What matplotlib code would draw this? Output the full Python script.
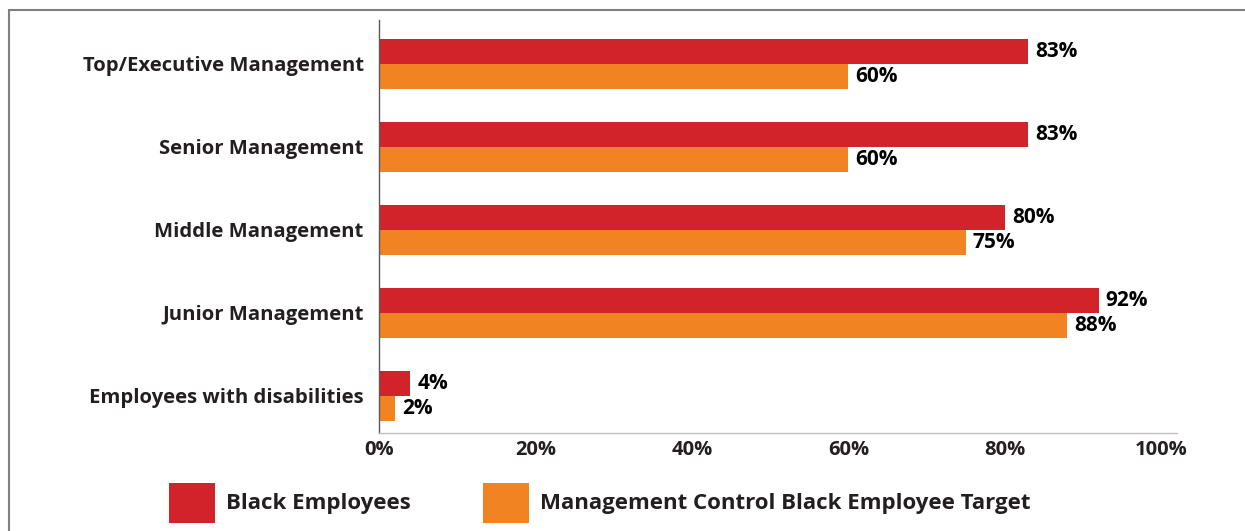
import matplotlib.pyplot as plt
import numpy as np
from matplotlib.patches import Rectangle

# management control figures
categories = ['Top/Executive Management', 'Senior Management', 'Middle Management',
              'Junior Management', 'Employees with disabilities']
black_employees = [83, 83, 80, 92, 4]
target = [60, 60, 75, 88, 2]
series_names = ['Black Employees', 'Management Control Black Employee Target']
xticks = [0, 20, 40, 60, 80, 100]

red = '#D2232A'
orange = '#F28322'
ink = '#231F20'

plt.rcParams['font.family'] = ['Open Sans', 'DejaVu Sans']

fig = plt.figure(figsize=(12.45, 5.31), dpi=100)
ax = fig.add_axes([379 / 1245, 1 - 433 / 531, 798 / 1245, 413 / 531])

y = np.arange(len(categories))
h = 0.3
ax.barh(y - h / 2, black_employees, height=h, color=red, label=series_names[0])
ax.barh(y + h / 2, target, height=h, color=orange, label=series_names[1])

for yi, v in zip(y, black_employees):
    ax.text(v + 0.9, yi - h / 2, f'{v}%', va='center', ha='left',
            fontsize=15, fontweight='bold', color='black')
for yi, v in zip(y, target):
    ax.text(v + 0.9, yi + h / 2, f'{v}%', va='center', ha='left',
            fontsize=15, fontweight='bold', color='black')

ax.set_xlim(0, 102)
ax.set_ylim(4.45, -0.53)
ax.set_yticks(y)
ax.set_yticklabels(categories, fontsize=14.6, fontweight='bold', color=ink)
ax.set_xticks(xticks)
ax.set_xticklabels([f'{t}%' for t in xticks], fontsize=14.5, fontweight='bold', color=ink)
ax.tick_params(axis='both', length=0)
ax.tick_params(axis='y', pad=11)
ax.tick_params(axis='x', pad=5)

for s in ['top', 'right']:
    ax.spines[s].set_visible(False)
ax.spines['left'].set_color('#595959')
ax.spines['bottom'].set_color('#BFBFBF')
ax.spines['left'].set_linewidth(1.0)
ax.spines['bottom'].set_linewidth(1.0)

# legend with large square swatches
fig.legend(loc='lower center', bbox_to_anchor=(600 / 1245, -0.022), ncol=2,
           frameon=False, prop={'size': 16, 'weight': 'bold'},
           handlelength=2.07, handleheight=2.4, handletextpad=0.5, columnspacing=3.24)
for t in fig.legends[0].get_texts():
    t.set_color(ink)

# outer frame
fig.patches.append(Rectangle((9 / 1245, -0.1), 1.2, 1 - 10 / 531 + 0.1,
                             transform=fig.transFigure, fill=False,
                             edgecolor='#7F7F7F', linewidth=1.5))

fig.savefig('out.png', dpi=100)
